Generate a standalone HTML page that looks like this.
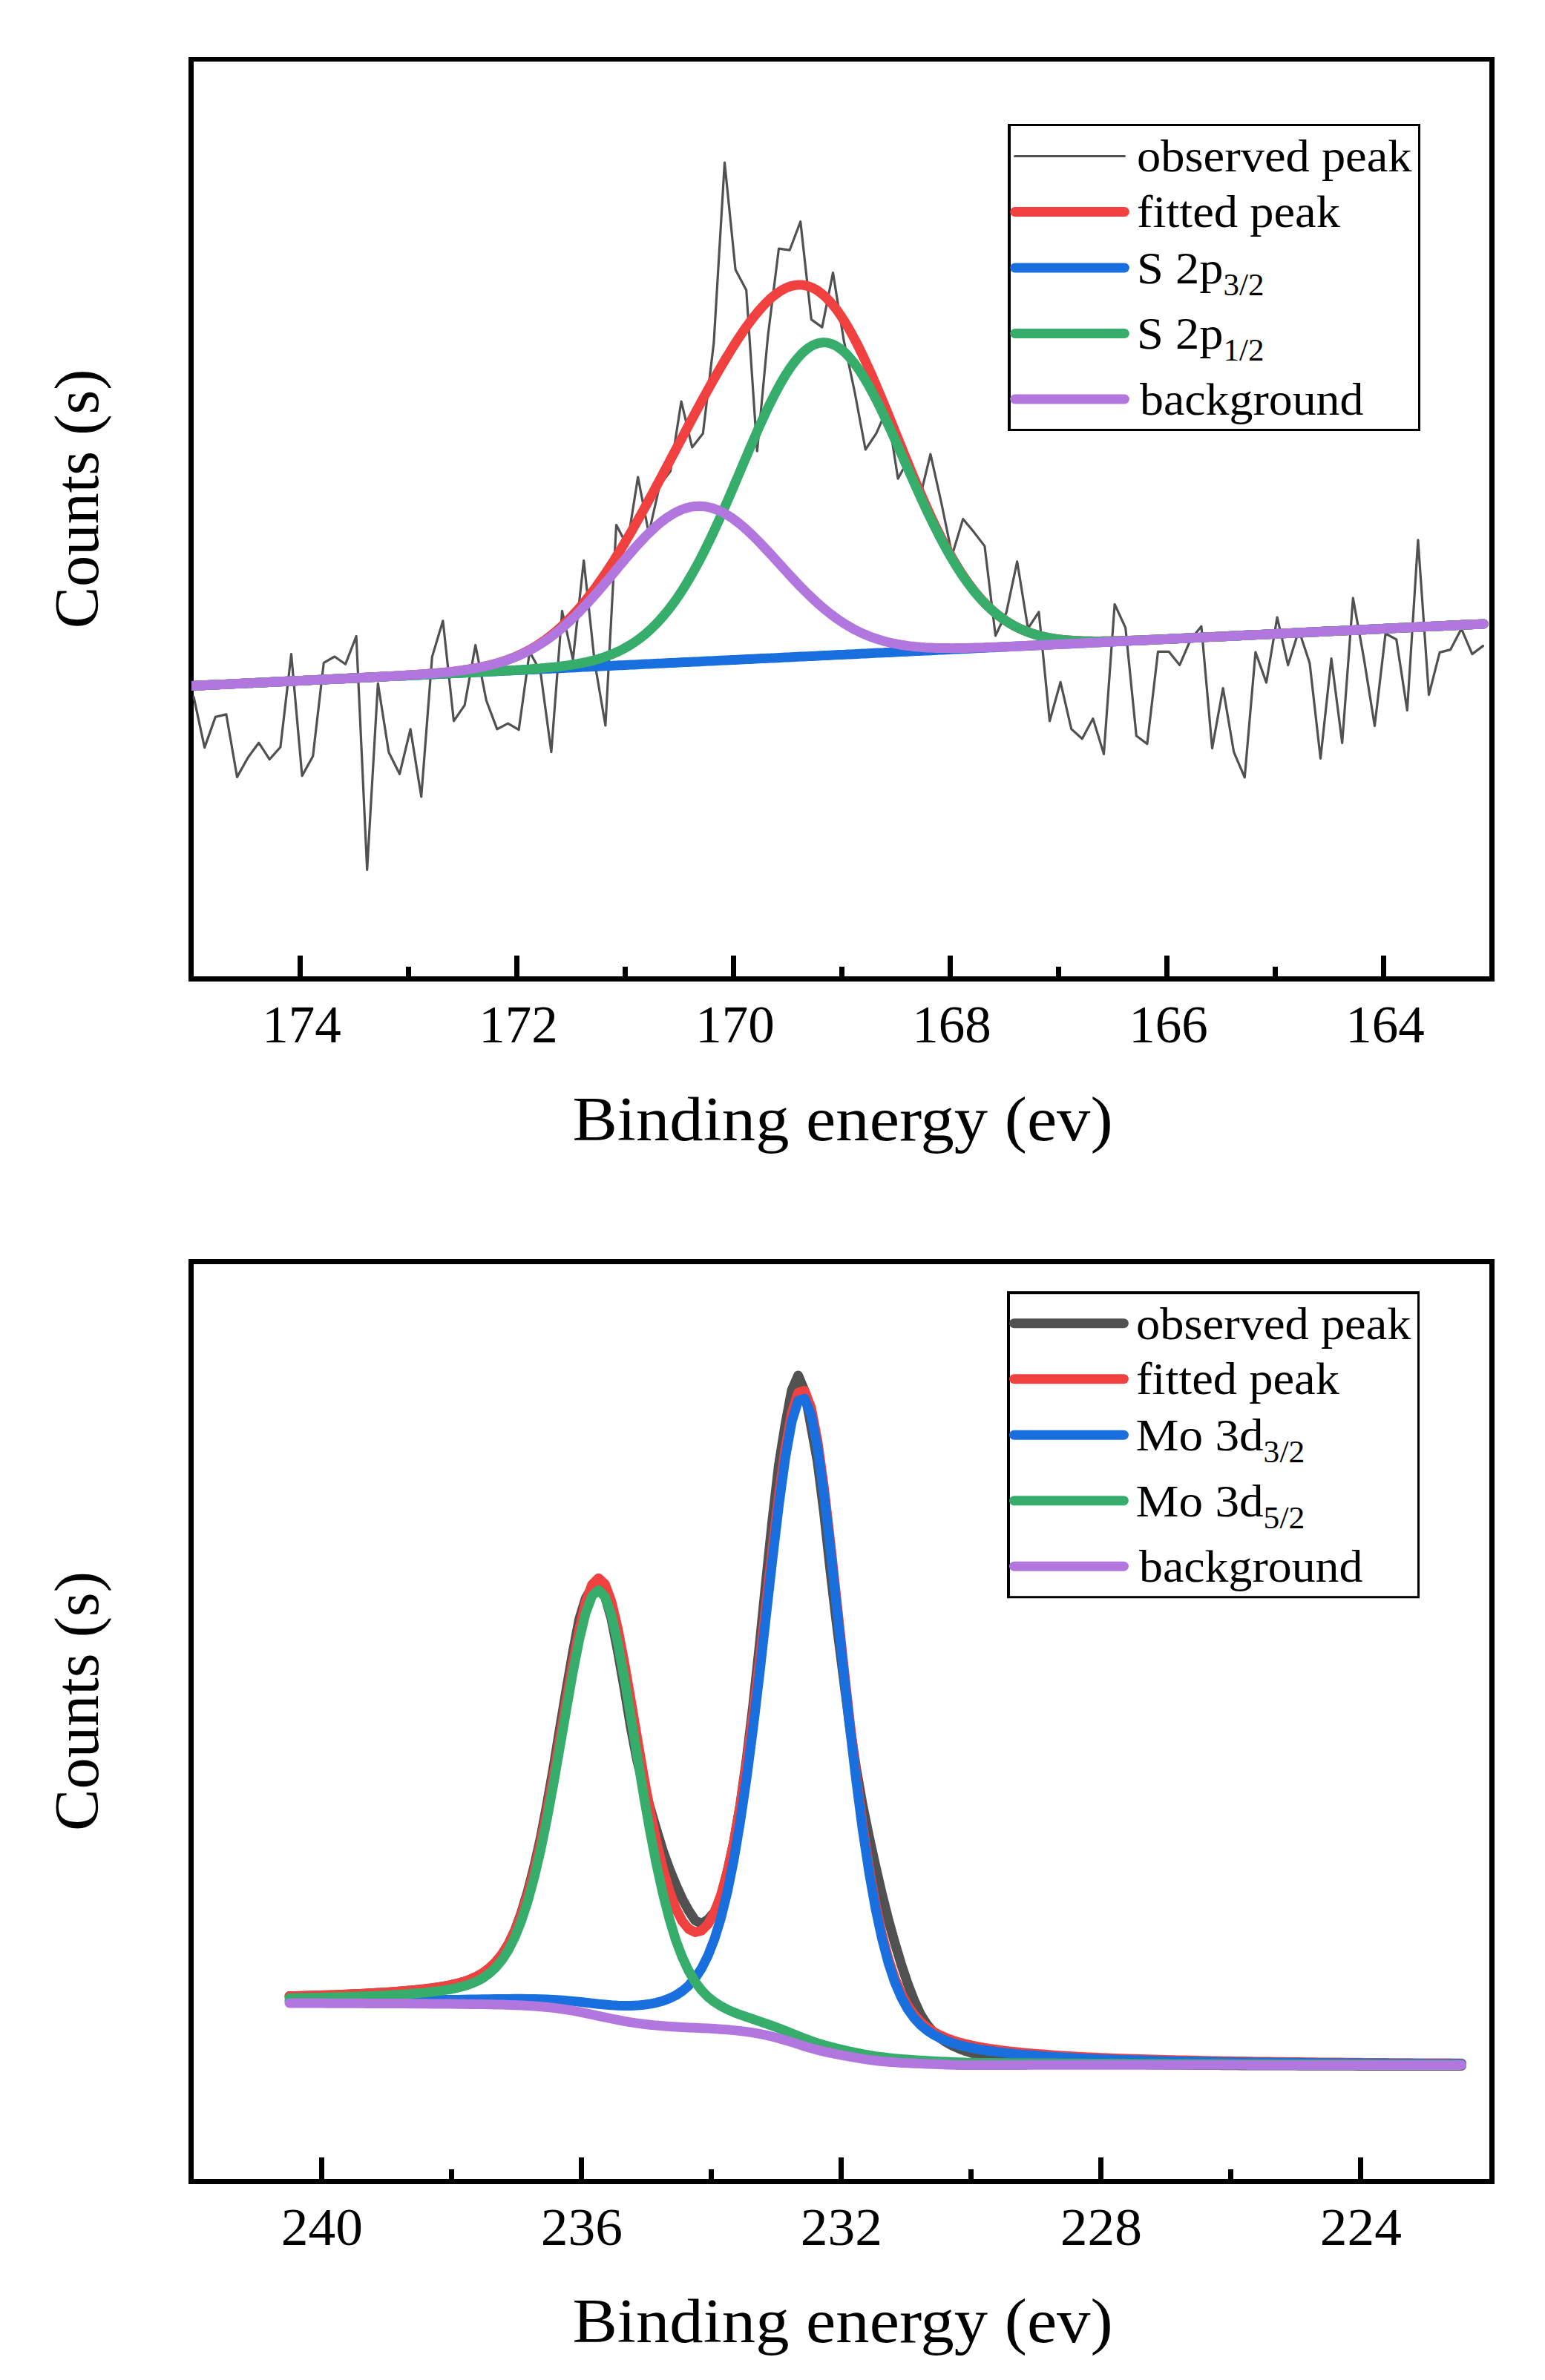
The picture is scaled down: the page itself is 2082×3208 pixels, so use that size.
<!DOCTYPE html>
<html><head><meta charset="utf-8"><title>XPS spectra</title>
<style>
html,body{margin:0;padding:0;background:#fff}
svg{display:block}
text{font-family:"Liberation Serif",serif;fill:#000}
</style></head><body>
<svg width="2082" height="3208" viewBox="0 0 2082 3208">
<defs><clipPath id="clipL"><rect x="258" y="0" width="1800" height="1400"/></clipPath></defs>
<rect width="2082" height="3208" fill="#fff"/>
<path fill="#000" fill-rule="evenodd" d="M254,77 H2014 V1323 H254 Z M261,83 H2007 V1316 H261 Z"/>
<g clip-path="url(#clipL)">
<path d="M261.1,939.6L275.7,1007.6L290.3,966.4L304.9,962.9L319.5,1047.4L334.1,1021.2L348.7,1001.2L363.3,1023.5L377.9,1007.0L392.5,881.7L407.1,1045.8L421.7,1019.2L436.3,893.4L450.9,885.0L465.5,895.3L480.1,857.5L494.7,1172.5L509.3,921.0L523.9,1014.0L538.5,1043.3L553.1,982.8L567.7,1073.8L582.3,885.4L596.9,836.8L611.5,971.8L626.1,950.7L640.7,869.6L655.3,944.0L669.9,982.9L684.5,975.1L699.1,983.7L713.7,878.5L728.3,905.2L742.9,1013.6L757.5,823.5L772.1,889.0L786.7,755.5L801.3,892.3L815.9,978.0L830.5,707.5L845.1,735.5L859.7,643.0L874.3,719.0L888.9,654.3L903.5,635.0L918.1,541.0L932.7,603.0L947.3,584.3L961.9,462.0L976.5,219.1L991.1,363.4L1005.7,391.0L1020.3,608.2L1034.9,452.4L1049.5,335.1L1064.1,337.2L1078.7,298.7L1093.3,430.6L1107.9,441.1L1122.5,367.5L1137.1,458.9L1151.7,528.0L1166.3,606.0L1180.9,584.1L1195.5,551.0L1210.1,645.2L1224.7,618.0L1239.3,672.4L1253.9,612.2L1268.5,677.5L1283.1,748.2L1297.7,699.6L1312.3,717.1L1326.9,736.1L1341.5,856.9L1356.1,825.8L1370.7,756.9L1385.3,847.2L1399.9,824.9L1414.5,972.0L1429.1,919.4L1443.7,982.6L1458.3,995.7L1472.9,968.6L1487.5,1016.4L1502.1,814.5L1516.7,846.2L1531.3,991.7L1545.9,1002.7L1560.5,878.3L1575.1,878.3L1589.7,896.4L1604.3,862.3L1618.9,844.2L1633.5,1008.7L1648.1,927.5L1662.7,1013.7L1677.3,1047.9L1691.9,879.0L1706.5,920.1L1721.1,832.0L1735.7,896.5L1750.3,849.6L1764.9,893.7L1779.5,1022.4L1794.1,887.7L1808.7,1001.5L1823.3,806.1L1837.9,887.1L1852.5,978.4L1867.1,854.0L1881.7,861.8L1896.3,957.5L1910.9,727.9L1925.5,936.6L1940.1,879.4L1954.7,875.6L1969.3,847.4L1983.9,881.6L1998.5,870.6" fill="none" stroke="#515151" stroke-width="3.2" stroke-linejoin="round" stroke-linecap="round"/>
<path d="M250.5,924.9L254.5,924.7L258.5,924.5L262.5,924.3L266.5,924.1L270.5,923.9L274.5,923.7L278.5,923.5L282.5,923.3L286.5,923.1L290.5,923.0L294.5,922.8L298.5,922.6L302.5,922.4L306.5,922.2L310.5,922.0L314.5,921.8L318.5,921.6L322.5,921.4L326.5,921.2L330.5,921.0L334.5,920.8L338.5,920.7L342.5,920.5L346.5,920.3L350.5,920.1L354.5,919.9L358.5,919.7L362.5,919.5L366.5,919.3L370.5,919.1L374.5,918.9L378.5,918.7L382.5,918.5L386.5,918.3L390.5,918.2L394.5,918.0L398.5,917.8L402.5,917.6L406.5,917.4L410.5,917.2L414.5,917.0L418.5,916.8L422.5,916.6L426.5,916.4L430.5,916.2L434.5,916.0L438.5,915.8L442.5,915.6L446.5,915.5L450.5,915.3L454.5,915.1L458.5,914.9L462.5,914.7L466.5,914.5L470.5,914.3L474.5,914.1L478.5,913.9L482.5,913.7L486.5,913.5L490.5,913.3L494.5,913.1L498.5,912.9L502.5,912.7L506.5,912.5L510.5,912.3L514.5,912.1L518.5,911.9L522.5,911.6L526.5,911.4L530.5,911.2L534.5,911.0L538.5,910.8L542.5,910.5L546.5,910.3L550.5,910.0L554.5,909.8L558.5,909.5L562.5,909.3L566.5,909.0L570.5,908.7L574.5,908.4L578.5,908.1L582.5,907.8L586.5,907.5L590.5,907.1L594.5,906.7L598.5,906.4L602.5,906.0L606.5,905.5L610.5,905.1L614.5,904.6L618.5,904.1L622.5,903.6L626.5,903.0L630.5,902.4L634.5,901.7L638.5,901.0L642.5,900.3L646.5,899.5L650.5,898.7L654.5,897.8L658.5,896.9L662.5,895.9L666.5,894.8L670.5,893.7L674.5,892.5L678.5,891.2L682.5,889.8L686.5,888.4L690.5,886.8L694.5,885.2L698.5,883.4L702.5,881.6L706.5,879.7L710.5,877.6L714.5,875.4L718.5,873.1L722.5,870.7L726.5,868.2L730.5,865.5L734.5,862.7L738.5,859.7L742.5,856.6L746.5,853.4L750.5,850.0L754.5,846.5L758.5,842.8L762.5,838.9L766.5,834.9L770.5,830.8L774.5,826.5L778.5,822.0L782.5,817.4L786.5,812.6L790.5,807.7L794.5,802.6L798.5,797.4L802.5,792.0L806.5,786.4L810.5,780.7L814.5,774.9L818.5,769.0L822.5,762.9L826.5,756.7L830.5,750.3L834.5,743.9L838.5,737.3L842.5,730.6L846.5,723.8L850.5,716.9L854.5,709.9L858.5,702.9L862.5,695.8L866.5,688.6L870.5,681.3L874.5,673.9L878.5,666.6L882.5,659.1L886.5,651.7L890.5,644.2L894.5,636.6L898.5,629.1L902.5,621.5L906.5,613.9L910.5,606.4L914.5,598.8L918.5,591.2L922.5,583.7L926.5,576.1L930.5,568.6L934.5,561.1L938.5,553.7L942.5,546.3L946.5,538.9L950.5,531.6L954.5,524.4L958.5,517.2L962.5,510.1L966.5,503.1L970.5,496.2L974.5,489.4L978.5,482.6L982.5,476.1L986.5,469.6L990.5,463.3L994.5,457.1L998.5,451.1L1002.5,445.2L1006.5,439.5L1010.5,434.1L1014.5,428.8L1018.5,423.8L1022.5,419.0L1026.5,414.4L1030.5,410.1L1034.5,406.1L1038.5,402.3L1042.5,398.9L1046.5,395.8L1050.5,393.0L1054.5,390.6L1058.5,388.5L1062.5,386.8L1066.5,385.5L1070.5,384.6L1074.5,384.1L1078.5,383.9L1082.5,384.3L1086.5,385.0L1090.5,386.2L1094.5,387.8L1098.5,389.8L1102.5,392.3L1106.5,395.2L1110.5,398.6L1114.5,402.4L1118.5,406.6L1122.5,411.2L1126.5,416.3L1130.5,421.8L1134.5,427.7L1138.5,434.0L1142.5,440.6L1146.5,447.6L1150.5,455.0L1154.5,462.6L1158.5,470.6L1162.5,478.9L1166.5,487.4L1170.5,496.2L1174.5,505.1L1178.5,514.3L1182.5,523.7L1186.5,533.2L1190.5,542.9L1194.5,552.6L1198.5,562.4L1202.5,572.3L1206.5,582.3L1210.5,592.2L1214.5,602.1L1218.5,612.0L1222.5,621.8L1226.5,631.6L1230.5,641.2L1234.5,650.8L1238.5,660.2L1242.5,669.4L1246.5,678.5L1250.5,687.5L1254.5,696.2L1258.5,704.7L1262.5,713.0L1266.5,721.1L1270.5,728.9L1274.5,736.5L1278.5,743.9L1282.5,751.0L1286.5,757.8L1290.5,764.4L1294.5,770.8L1298.5,776.8L1302.5,782.6L1306.5,788.2L1310.5,793.5L1314.5,798.5L1318.5,803.3L1322.5,807.9L1326.5,812.2L1330.5,816.2L1334.5,820.1L1338.5,823.7L1342.5,827.1L1346.5,830.3L1350.5,833.3L1354.5,836.1L1358.5,838.7L1362.5,841.1L1366.5,843.4L1370.5,845.5L1374.5,847.4L1378.5,849.2L1382.5,850.8L1386.5,852.3L1390.5,853.7L1394.5,855.0L1398.5,856.2L1402.5,857.2L1406.5,858.2L1410.5,859.0L1414.5,859.8L1418.5,860.5L1422.5,861.1L1426.5,861.6L1430.5,862.1L1434.5,862.6L1438.5,862.9L1442.5,863.2L1446.5,863.5L1450.5,863.7L1454.5,863.9L1458.5,864.1L1462.5,864.2L1466.5,864.3L1470.5,864.3L1474.5,864.4L1478.5,864.4L1482.5,864.4L1486.5,864.3L1490.5,864.3L1494.5,864.2L1498.5,864.1L1502.5,864.0L1506.5,863.9L1510.5,863.8L1514.5,863.7L1518.5,863.6L1522.5,863.4L1526.5,863.3L1530.5,863.1L1534.5,863.0L1538.5,862.8L1542.5,862.7L1546.5,862.5L1550.5,862.3L1554.5,862.2L1558.5,862.0L1562.5,861.8L1566.5,861.6L1570.5,861.4L1574.5,861.3L1578.5,861.1L1582.5,860.9L1586.5,860.7L1590.5,860.5L1594.5,860.3L1598.5,860.1L1602.5,860.0L1606.5,859.8L1610.5,859.6L1614.5,859.4L1618.5,859.2L1622.5,859.0L1626.5,858.8L1630.5,858.6L1634.5,858.4L1638.5,858.2L1642.5,858.1L1646.5,857.9L1650.5,857.7L1654.5,857.5L1658.5,857.3L1662.5,857.1L1666.5,856.9L1670.5,856.7L1674.5,856.5L1678.5,856.3L1682.5,856.1L1686.5,855.9L1690.5,855.8L1694.5,855.6L1698.5,855.4L1702.5,855.2L1706.5,855.0L1710.5,854.8L1714.5,854.6L1718.5,854.4L1722.5,854.2L1726.5,854.0L1730.5,853.8L1734.5,853.6L1738.5,853.5L1742.5,853.3L1746.5,853.1L1750.5,852.9L1754.5,852.7L1758.5,852.5L1762.5,852.3L1766.5,852.1L1770.5,851.9L1774.5,851.7L1778.5,851.5L1782.5,851.3L1786.5,851.1L1790.5,851.0L1794.5,850.8L1798.5,850.6L1802.5,850.4L1806.5,850.2L1810.5,850.0L1814.5,849.8L1818.5,849.6L1822.5,849.4L1826.5,849.2L1830.5,849.0L1834.5,848.8L1838.5,848.7L1842.5,848.5L1846.5,848.3L1850.5,848.1L1854.5,847.9L1858.5,847.7L1862.5,847.5L1866.5,847.3L1870.5,847.1L1874.5,846.9L1878.5,846.7L1882.5,846.5L1886.5,846.3L1890.5,846.2L1894.5,846.0L1898.5,845.8L1902.5,845.6L1906.5,845.4L1910.5,845.2L1914.5,845.0L1918.5,844.8L1922.5,844.6L1926.5,844.4L1930.5,844.2L1934.5,844.0L1938.5,843.9L1942.5,843.7L1946.5,843.5L1950.5,843.3L1954.5,843.1L1958.5,842.9L1962.5,842.7L1966.5,842.5L1970.5,842.3L1974.5,842.1L1978.5,841.9L1982.5,841.7L1986.5,841.5L1990.5,841.4L1994.5,841.2L1999.4,840.9" fill="none" stroke="#F14040" stroke-width="13" stroke-linecap="round" stroke-linejoin="round"/>
<path d="M250.5,924.9L254.5,924.7L258.5,924.5L262.5,924.3L266.5,924.1L270.5,923.9L274.5,923.7L278.5,923.5L282.5,923.3L286.5,923.1L290.5,923.0L294.5,922.8L298.5,922.6L302.5,922.4L306.5,922.2L310.5,922.0L314.5,921.8L318.5,921.6L322.5,921.4L326.5,921.2L330.5,921.0L334.5,920.8L338.5,920.7L342.5,920.5L346.5,920.3L350.5,920.1L354.5,919.9L358.5,919.7L362.5,919.5L366.5,919.3L370.5,919.1L374.5,918.9L378.5,918.7L382.5,918.5L386.5,918.3L390.5,918.2L394.5,918.0L398.5,917.8L402.5,917.6L406.5,917.4L410.5,917.2L414.5,917.0L418.5,916.8L422.5,916.6L426.5,916.4L430.5,916.2L434.5,916.0L438.5,915.9L442.5,915.7L446.5,915.5L450.5,915.3L454.5,915.1L458.5,914.9L462.5,914.7L466.5,914.5L470.5,914.3L474.5,914.1L478.5,913.9L482.5,913.7L486.5,913.5L490.5,913.4L494.5,913.2L498.5,913.0L502.5,912.8L506.5,912.6L510.5,912.4L514.5,912.2L518.5,912.0L522.5,911.8L526.5,911.6L530.5,911.4L534.5,911.2L538.5,911.1L542.5,910.9L546.5,910.7L550.5,910.5L554.5,910.3L558.5,910.1L562.5,909.9L566.5,909.7L570.5,909.5L574.5,909.3L578.5,909.1L582.5,908.9L586.5,908.7L590.5,908.6L594.5,908.4L598.5,908.2L602.5,908.0L606.5,907.8L610.5,907.6L614.5,907.4L618.5,907.2L622.5,907.0L626.5,906.8L630.5,906.6L634.5,906.4L638.5,906.3L642.5,906.1L646.5,905.9L650.5,905.7L654.5,905.5L658.5,905.3L662.5,905.1L666.5,904.9L670.5,904.7L674.5,904.5L678.5,904.3L682.5,904.1L686.5,903.9L690.5,903.8L694.5,903.6L698.5,903.4L702.5,903.2L706.5,903.0L710.5,902.8L714.5,902.6L718.5,902.4L722.5,902.2L726.5,902.0L730.5,901.8L734.5,901.6L738.5,901.5L742.5,901.3L746.5,901.1L750.5,900.9L754.5,900.7L758.5,900.5L762.5,900.3L766.5,900.1L770.5,899.9L774.5,899.7L778.5,899.5L782.5,899.3L786.5,899.1L790.5,899.0L794.5,898.8L798.5,898.6L802.5,898.4L806.5,898.2L810.5,898.0L814.5,897.8L818.5,897.6L822.5,897.4L826.5,897.2L830.5,897.0L834.5,896.8L838.5,896.7L842.5,896.5L846.5,896.3L850.5,896.1L854.5,895.9L858.5,895.7L862.5,895.5L866.5,895.3L870.5,895.1L874.5,894.9L878.5,894.7L882.5,894.5L886.5,894.3L890.5,894.2L894.5,894.0L898.5,893.8L902.5,893.6L906.5,893.4L910.5,893.2L914.5,893.0L918.5,892.8L922.5,892.6L926.5,892.4L930.5,892.2L934.5,892.0L938.5,891.9L942.5,891.7L946.5,891.5L950.5,891.3L954.5,891.1L958.5,890.9L962.5,890.7L966.5,890.5L970.5,890.3L974.5,890.1L978.5,889.9L982.5,889.7L986.5,889.5L990.5,889.4L994.5,889.2L998.5,889.0L1002.5,888.8L1006.5,888.6L1010.5,888.4L1014.5,888.2L1018.5,888.0L1022.5,887.8L1026.5,887.6L1030.5,887.4L1034.5,887.2L1038.5,887.1L1042.5,886.9L1046.5,886.7L1050.5,886.5L1054.5,886.3L1058.5,886.1L1062.5,885.9L1066.5,885.7L1070.5,885.5L1074.5,885.3L1078.5,885.1L1082.5,884.9L1086.5,884.7L1090.5,884.6L1094.5,884.4L1098.5,884.2L1102.5,884.0L1106.5,883.8L1110.5,883.6L1114.5,883.4L1118.5,883.2L1122.5,883.0L1126.5,882.8L1130.5,882.6L1134.5,882.4L1138.5,882.3L1142.5,882.1L1146.5,881.9L1150.5,881.7L1154.5,881.5L1158.5,881.3L1162.5,881.1L1166.5,880.9L1170.5,880.7L1174.5,880.5L1178.5,880.3L1182.5,880.1L1186.5,879.9L1190.5,879.8L1194.5,879.6L1198.5,879.4L1202.5,879.2L1206.5,879.0L1210.5,878.8L1214.5,878.6L1218.5,878.4L1222.5,878.2L1226.5,878.0L1230.5,877.8L1234.5,877.6L1238.5,877.5L1242.5,877.3L1246.5,877.1L1250.5,876.9L1254.5,876.7L1258.5,876.5L1262.5,876.3L1266.5,876.1L1270.5,875.9L1274.5,875.7L1278.5,875.5L1282.5,875.3L1286.5,875.1L1290.5,875.0L1294.5,874.8L1298.5,874.6L1302.5,874.4L1306.5,874.2L1310.5,874.0L1314.5,873.8L1318.5,873.6L1322.5,873.4L1326.5,873.2L1330.5,873.0L1334.5,872.8L1338.5,872.7L1342.5,872.5L1346.5,872.3L1350.5,872.1L1354.5,871.9L1358.5,871.7L1362.5,871.5L1366.5,871.3L1370.5,871.1L1374.5,870.9L1378.5,870.7L1382.5,870.5L1386.5,870.3L1390.5,870.2L1394.5,870.0L1398.5,869.8L1402.5,869.6L1406.5,869.4L1410.5,869.2L1414.5,869.0L1418.5,868.8L1422.5,868.6L1426.5,868.4L1430.5,868.2L1434.5,868.0L1438.5,867.9L1442.5,867.7L1446.5,867.5L1450.5,867.3L1454.5,867.1L1458.5,866.9L1462.5,866.7L1466.5,866.5L1470.5,866.3L1474.5,866.1L1478.5,865.9L1482.5,865.7L1486.5,865.5L1490.5,865.4L1494.5,865.2L1498.5,865.0L1502.5,864.8L1506.5,864.6L1510.5,864.4L1514.5,864.2L1518.5,864.0L1522.5,863.8L1526.5,863.6L1530.5,863.4L1534.5,863.2L1538.5,863.1L1542.5,862.9L1546.5,862.7L1550.5,862.5L1554.5,862.3L1558.5,862.1L1562.5,861.9L1566.5,861.7L1570.5,861.5L1574.5,861.3L1578.5,861.1L1582.5,860.9L1586.5,860.7L1590.5,860.6L1594.5,860.4L1598.5,860.2L1602.5,860.0L1606.5,859.8L1610.5,859.6L1614.5,859.4L1618.5,859.2L1622.5,859.0L1626.5,858.8L1630.5,858.6L1634.5,858.4L1638.5,858.3L1642.5,858.1L1646.5,857.9L1650.5,857.7L1654.5,857.5L1658.5,857.3L1662.5,857.1L1666.5,856.9L1670.5,856.7L1674.5,856.5L1678.5,856.3L1682.5,856.1L1686.5,855.9L1690.5,855.8L1694.5,855.6L1698.5,855.4L1702.5,855.2L1706.5,855.0L1710.5,854.8L1714.5,854.6L1718.5,854.4L1722.5,854.2L1726.5,854.0L1730.5,853.8L1734.5,853.6L1738.5,853.5L1742.5,853.3L1746.5,853.1L1750.5,852.9L1754.5,852.7L1758.5,852.5L1762.5,852.3L1766.5,852.1L1770.5,851.9L1774.5,851.7L1778.5,851.5L1782.5,851.3L1786.5,851.1L1790.5,851.0L1794.5,850.8L1798.5,850.6L1802.5,850.4L1806.5,850.2L1810.5,850.0L1814.5,849.8L1818.5,849.6L1822.5,849.4L1826.5,849.2L1830.5,849.0L1834.5,848.8L1838.5,848.7L1842.5,848.5L1846.5,848.3L1850.5,848.1L1854.5,847.9L1858.5,847.7L1862.5,847.5L1866.5,847.3L1870.5,847.1L1874.5,846.9L1878.5,846.7L1882.5,846.5L1886.5,846.3L1890.5,846.2L1894.5,846.0L1898.5,845.8L1902.5,845.6L1906.5,845.4L1910.5,845.2L1914.5,845.0L1918.5,844.8L1922.5,844.6L1926.5,844.4L1930.5,844.2L1934.5,844.0L1938.5,843.9L1942.5,843.7L1946.5,843.5L1950.5,843.3L1954.5,843.1L1958.5,842.9L1962.5,842.7L1966.5,842.5L1970.5,842.3L1974.5,842.1L1978.5,841.9L1982.5,841.7L1986.5,841.5L1990.5,841.4L1994.5,841.2L1999.4,840.9" fill="none" stroke="#1A6FDF" stroke-width="13" stroke-linecap="round" stroke-linejoin="round"/>
<path d="M250.5,924.9L254.5,924.7L258.5,924.5L262.5,924.3L266.5,924.1L270.5,923.9L274.5,923.7L278.5,923.5L282.5,923.3L286.5,923.1L290.5,923.0L294.5,922.8L298.5,922.6L302.5,922.4L306.5,922.2L310.5,922.0L314.5,921.8L318.5,921.6L322.5,921.4L326.5,921.2L330.5,921.0L334.5,920.8L338.5,920.7L342.5,920.5L346.5,920.3L350.5,920.1L354.5,919.9L358.5,919.7L362.5,919.5L366.5,919.3L370.5,919.1L374.5,918.9L378.5,918.7L382.5,918.5L386.5,918.3L390.5,918.2L394.5,918.0L398.5,917.8L402.5,917.6L406.5,917.4L410.5,917.2L414.5,917.0L418.5,916.8L422.5,916.6L426.5,916.4L430.5,916.2L434.5,916.0L438.5,915.9L442.5,915.7L446.5,915.5L450.5,915.3L454.5,915.1L458.5,914.9L462.5,914.7L466.5,914.5L470.5,914.3L474.5,914.1L478.5,913.9L482.5,913.7L486.5,913.5L490.5,913.4L494.5,913.2L498.5,913.0L502.5,912.8L506.5,912.6L510.5,912.4L514.5,912.2L518.5,912.0L522.5,911.8L526.5,911.6L530.5,911.4L534.5,911.2L538.5,911.0L542.5,910.9L546.5,910.7L550.5,910.5L554.5,910.3L558.5,910.1L562.5,909.9L566.5,909.7L570.5,909.5L574.5,909.3L578.5,909.1L582.5,908.9L586.5,908.7L590.5,908.5L594.5,908.4L598.5,908.2L602.5,908.0L606.5,907.8L610.5,907.6L614.5,907.4L618.5,907.2L622.5,907.0L626.5,906.8L630.5,906.6L634.5,906.4L638.5,906.2L642.5,906.0L646.5,905.8L650.5,905.6L654.5,905.4L658.5,905.2L662.5,905.0L666.5,904.8L670.5,904.6L674.5,904.3L678.5,904.1L682.5,903.9L686.5,903.7L690.5,903.4L694.5,903.2L698.5,902.9L702.5,902.7L706.5,902.4L710.5,902.2L714.5,901.9L718.5,901.6L722.5,901.3L726.5,901.0L730.5,900.6L734.5,900.3L738.5,899.9L742.5,899.5L746.5,899.1L750.5,898.7L754.5,898.2L758.5,897.7L762.5,897.2L766.5,896.6L770.5,896.0L774.5,895.4L778.5,894.7L782.5,893.9L786.5,893.1L790.5,892.3L794.5,891.4L798.5,890.4L802.5,889.3L806.5,888.2L810.5,887.0L814.5,885.6L818.5,884.2L822.5,882.7L826.5,881.1L830.5,879.3L834.5,877.5L838.5,875.5L842.5,873.3L846.5,871.0L850.5,868.6L854.5,866.0L858.5,863.2L862.5,860.3L866.5,857.2L870.5,853.9L874.5,850.4L878.5,846.6L882.5,842.7L886.5,838.6L890.5,834.2L894.5,829.6L898.5,824.8L902.5,819.7L906.5,814.4L910.5,808.9L914.5,803.1L918.5,797.0L922.5,790.7L926.5,784.2L930.5,777.4L934.5,770.4L938.5,763.2L942.5,755.7L946.5,748.0L950.5,740.0L954.5,731.9L958.5,723.6L962.5,715.0L966.5,706.3L970.5,697.5L974.5,688.5L978.5,679.4L982.5,670.1L986.5,660.8L990.5,651.4L994.5,642.0L998.5,632.6L1002.5,623.1L1006.5,613.7L1010.5,604.3L1014.5,595.0L1018.5,585.8L1022.5,576.7L1026.5,567.8L1030.5,559.1L1034.5,550.6L1038.5,542.4L1042.5,534.4L1046.5,526.7L1050.5,519.3L1054.5,512.3L1058.5,505.6L1062.5,499.4L1066.5,493.5L1070.5,488.1L1074.5,483.2L1078.5,478.7L1082.5,474.7L1086.5,471.3L1090.5,468.3L1094.5,465.9L1098.5,464.0L1102.5,462.7L1106.5,461.9L1110.5,461.6L1114.5,462.0L1118.5,462.8L1122.5,464.2L1126.5,466.2L1130.5,468.7L1134.5,471.7L1138.5,475.2L1142.5,479.2L1146.5,483.7L1150.5,488.7L1154.5,494.1L1158.5,499.9L1162.5,506.1L1166.5,512.7L1170.5,519.6L1174.5,526.9L1178.5,534.5L1182.5,542.3L1186.5,550.4L1190.5,558.7L1194.5,567.2L1198.5,575.8L1202.5,584.6L1206.5,593.5L1210.5,602.5L1214.5,611.5L1218.5,620.6L1222.5,629.7L1226.5,638.7L1230.5,647.7L1234.5,656.7L1238.5,665.5L1242.5,674.3L1246.5,682.9L1250.5,691.4L1254.5,699.8L1258.5,707.9L1262.5,715.9L1266.5,723.7L1270.5,731.3L1274.5,738.6L1278.5,745.8L1282.5,752.7L1286.5,759.3L1290.5,765.8L1294.5,772.0L1298.5,777.9L1302.5,783.6L1306.5,789.0L1310.5,794.2L1314.5,799.2L1318.5,803.9L1322.5,808.4L1326.5,812.6L1330.5,816.6L1334.5,820.4L1338.5,824.0L1342.5,827.4L1346.5,830.5L1350.5,833.5L1354.5,836.3L1358.5,838.8L1362.5,841.3L1366.5,843.5L1370.5,845.6L1374.5,847.5L1378.5,849.3L1382.5,850.9L1386.5,852.4L1390.5,853.8L1394.5,855.0L1398.5,856.2L1402.5,857.2L1406.5,858.2L1410.5,859.0L1414.5,859.8L1418.5,860.5L1422.5,861.1L1426.5,861.7L1430.5,862.1L1434.5,862.6L1438.5,862.9L1442.5,863.2L1446.5,863.5L1450.5,863.7L1454.5,863.9L1458.5,864.1L1462.5,864.2L1466.5,864.3L1470.5,864.3L1474.5,864.4L1478.5,864.4L1482.5,864.4L1486.5,864.3L1490.5,864.3L1494.5,864.2L1498.5,864.1L1502.5,864.0L1506.5,863.9L1510.5,863.8L1514.5,863.7L1518.5,863.6L1522.5,863.4L1526.5,863.3L1530.5,863.1L1534.5,863.0L1538.5,862.8L1542.5,862.7L1546.5,862.5L1550.5,862.3L1554.5,862.2L1558.5,862.0L1562.5,861.8L1566.5,861.6L1570.5,861.4L1574.5,861.3L1578.5,861.1L1582.5,860.9L1586.5,860.7L1590.5,860.5L1594.5,860.3L1598.5,860.1L1602.5,860.0L1606.5,859.8L1610.5,859.6L1614.5,859.4L1618.5,859.2L1622.5,859.0L1626.5,858.8L1630.5,858.6L1634.5,858.4L1638.5,858.2L1642.5,858.1L1646.5,857.9L1650.5,857.7L1654.5,857.5L1658.5,857.3L1662.5,857.1L1666.5,856.9L1670.5,856.7L1674.5,856.5L1678.5,856.3L1682.5,856.1L1686.5,855.9L1690.5,855.8L1694.5,855.6L1698.5,855.4L1702.5,855.2L1706.5,855.0L1710.5,854.8L1714.5,854.6L1718.5,854.4L1722.5,854.2L1726.5,854.0L1730.5,853.8L1734.5,853.6L1738.5,853.5L1742.5,853.3L1746.5,853.1L1750.5,852.9L1754.5,852.7L1758.5,852.5L1762.5,852.3L1766.5,852.1L1770.5,851.9L1774.5,851.7L1778.5,851.5L1782.5,851.3L1786.5,851.1L1790.5,851.0L1794.5,850.8L1798.5,850.6L1802.5,850.4L1806.5,850.2L1810.5,850.0L1814.5,849.8L1818.5,849.6L1822.5,849.4L1826.5,849.2L1830.5,849.0L1834.5,848.8L1838.5,848.7L1842.5,848.5L1846.5,848.3L1850.5,848.1L1854.5,847.9L1858.5,847.7L1862.5,847.5L1866.5,847.3L1870.5,847.1L1874.5,846.9L1878.5,846.7L1882.5,846.5L1886.5,846.3L1890.5,846.2L1894.5,846.0L1898.5,845.8L1902.5,845.6L1906.5,845.4L1910.5,845.2L1914.5,845.0L1918.5,844.8L1922.5,844.6L1926.5,844.4L1930.5,844.2L1934.5,844.0L1938.5,843.9L1942.5,843.7L1946.5,843.5L1950.5,843.3L1954.5,843.1L1958.5,842.9L1962.5,842.7L1966.5,842.5L1970.5,842.3L1974.5,842.1L1978.5,841.9L1982.5,841.7L1986.5,841.5L1990.5,841.4L1994.5,841.2L1999.4,840.9" fill="none" stroke="#37AD6B" stroke-width="13" stroke-linecap="round" stroke-linejoin="round"/>
<path d="M250.5,924.9L254.5,924.7L258.5,924.5L262.5,924.3L266.5,924.1L270.5,923.9L274.5,923.7L278.5,923.5L282.5,923.3L286.5,923.1L290.5,923.0L294.5,922.8L298.5,922.6L302.5,922.4L306.5,922.2L310.5,922.0L314.5,921.8L318.5,921.6L322.5,921.4L326.5,921.2L330.5,921.0L334.5,920.8L338.5,920.7L342.5,920.5L346.5,920.3L350.5,920.1L354.5,919.9L358.5,919.7L362.5,919.5L366.5,919.3L370.5,919.1L374.5,918.9L378.5,918.7L382.5,918.5L386.5,918.3L390.5,918.2L394.5,918.0L398.5,917.8L402.5,917.6L406.5,917.4L410.5,917.2L414.5,917.0L418.5,916.8L422.5,916.6L426.5,916.4L430.5,916.2L434.5,916.0L438.5,915.8L442.5,915.6L446.5,915.5L450.5,915.3L454.5,915.1L458.5,914.9L462.5,914.7L466.5,914.5L470.5,914.3L474.5,914.1L478.5,913.9L482.5,913.7L486.5,913.5L490.5,913.3L494.5,913.1L498.5,912.9L502.5,912.7L506.5,912.5L510.5,912.3L514.5,912.1L518.5,911.9L522.5,911.6L526.5,911.4L530.5,911.2L534.5,911.0L538.5,910.8L542.5,910.5L546.5,910.3L550.5,910.0L554.5,909.8L558.5,909.5L562.5,909.3L566.5,909.0L570.5,908.7L574.5,908.4L578.5,908.1L582.5,907.8L586.5,907.5L590.5,907.1L594.5,906.8L598.5,906.4L602.5,906.0L606.5,905.5L610.5,905.1L614.5,904.6L618.5,904.1L622.5,903.6L626.5,903.0L630.5,902.4L634.5,901.8L638.5,901.1L642.5,900.4L646.5,899.6L650.5,898.8L654.5,897.9L658.5,897.0L662.5,896.0L666.5,895.0L670.5,893.8L674.5,892.7L678.5,891.4L682.5,890.1L686.5,888.6L690.5,887.1L694.5,885.6L698.5,883.9L702.5,882.1L706.5,880.2L710.5,878.2L714.5,876.1L718.5,874.0L722.5,871.6L726.5,869.2L730.5,866.7L734.5,864.0L738.5,861.3L742.5,858.4L746.5,855.3L750.5,852.2L754.5,848.9L758.5,845.6L762.5,842.0L766.5,838.4L770.5,834.7L774.5,830.8L778.5,826.9L782.5,822.8L786.5,818.6L790.5,814.3L794.5,810.0L798.5,805.5L802.5,801.0L806.5,796.4L810.5,791.8L814.5,787.1L818.5,782.4L822.5,777.6L826.5,772.8L830.5,768.0L834.5,763.2L838.5,758.5L842.5,753.7L846.5,749.0L850.5,744.4L854.5,739.8L858.5,735.3L862.5,731.0L866.5,726.7L870.5,722.5L874.5,718.5L878.5,714.7L882.5,711.0L886.5,707.4L890.5,704.1L894.5,701.0L898.5,698.1L902.5,695.4L906.5,692.9L910.5,690.7L914.5,688.7L918.5,687.0L922.5,685.5L926.5,684.3L930.5,683.4L934.5,682.7L938.5,682.4L942.5,682.2L946.5,682.4L950.5,682.8L954.5,683.6L958.5,684.5L962.5,685.8L966.5,687.3L970.5,689.0L974.5,691.0L978.5,693.2L982.5,695.7L986.5,698.3L990.5,701.2L994.5,704.2L998.5,707.5L1002.5,710.9L1006.5,714.5L1010.5,718.2L1014.5,722.0L1018.5,726.0L1022.5,730.0L1026.5,734.2L1030.5,738.4L1034.5,742.7L1038.5,747.0L1042.5,751.4L1046.5,755.8L1050.5,760.2L1054.5,764.6L1058.5,769.0L1062.5,773.4L1066.5,777.7L1070.5,782.0L1074.5,786.2L1078.5,790.4L1082.5,794.5L1086.5,798.5L1090.5,802.4L1094.5,806.2L1098.5,810.0L1102.5,813.6L1106.5,817.1L1110.5,820.5L1114.5,823.8L1118.5,827.0L1122.5,830.0L1126.5,832.9L1130.5,835.7L1134.5,838.4L1138.5,841.0L1142.5,843.4L1146.5,845.8L1150.5,848.0L1154.5,850.0L1158.5,852.0L1162.5,853.9L1166.5,855.6L1170.5,857.2L1174.5,858.8L1178.5,860.2L1182.5,861.5L1186.5,862.8L1190.5,863.9L1194.5,865.0L1198.5,866.0L1202.5,866.9L1206.5,867.7L1210.5,868.5L1214.5,869.2L1218.5,869.8L1222.5,870.4L1226.5,870.9L1230.5,871.3L1234.5,871.7L1238.5,872.1L1242.5,872.4L1246.5,872.7L1250.5,872.9L1254.5,873.1L1258.5,873.3L1262.5,873.4L1266.5,873.5L1270.5,873.6L1274.5,873.6L1278.5,873.6L1282.5,873.7L1286.5,873.6L1290.5,873.6L1294.5,873.6L1298.5,873.5L1302.5,873.4L1306.5,873.3L1310.5,873.3L1314.5,873.1L1318.5,873.0L1322.5,872.9L1326.5,872.8L1330.5,872.6L1334.5,872.5L1338.5,872.3L1342.5,872.2L1346.5,872.0L1350.5,871.9L1354.5,871.7L1358.5,871.5L1362.5,871.4L1366.5,871.2L1370.5,871.0L1374.5,870.8L1378.5,870.7L1382.5,870.5L1386.5,870.3L1390.5,870.1L1394.5,869.9L1398.5,869.7L1402.5,869.5L1406.5,869.4L1410.5,869.2L1414.5,869.0L1418.5,868.8L1422.5,868.6L1426.5,868.4L1430.5,868.2L1434.5,868.0L1438.5,867.8L1442.5,867.7L1446.5,867.5L1450.5,867.3L1454.5,867.1L1458.5,866.9L1462.5,866.7L1466.5,866.5L1470.5,866.3L1474.5,866.1L1478.5,865.9L1482.5,865.7L1486.5,865.5L1490.5,865.4L1494.5,865.2L1498.5,865.0L1502.5,864.8L1506.5,864.6L1510.5,864.4L1514.5,864.2L1518.5,864.0L1522.5,863.8L1526.5,863.6L1530.5,863.4L1534.5,863.2L1538.5,863.1L1542.5,862.9L1546.5,862.7L1550.5,862.5L1554.5,862.3L1558.5,862.1L1562.5,861.9L1566.5,861.7L1570.5,861.5L1574.5,861.3L1578.5,861.1L1582.5,860.9L1586.5,860.7L1590.5,860.6L1594.5,860.4L1598.5,860.2L1602.5,860.0L1606.5,859.8L1610.5,859.6L1614.5,859.4L1618.5,859.2L1622.5,859.0L1626.5,858.8L1630.5,858.6L1634.5,858.4L1638.5,858.3L1642.5,858.1L1646.5,857.9L1650.5,857.7L1654.5,857.5L1658.5,857.3L1662.5,857.1L1666.5,856.9L1670.5,856.7L1674.5,856.5L1678.5,856.3L1682.5,856.1L1686.5,855.9L1690.5,855.8L1694.5,855.6L1698.5,855.4L1702.5,855.2L1706.5,855.0L1710.5,854.8L1714.5,854.6L1718.5,854.4L1722.5,854.2L1726.5,854.0L1730.5,853.8L1734.5,853.6L1738.5,853.5L1742.5,853.3L1746.5,853.1L1750.5,852.9L1754.5,852.7L1758.5,852.5L1762.5,852.3L1766.5,852.1L1770.5,851.9L1774.5,851.7L1778.5,851.5L1782.5,851.3L1786.5,851.1L1790.5,851.0L1794.5,850.8L1798.5,850.6L1802.5,850.4L1806.5,850.2L1810.5,850.0L1814.5,849.8L1818.5,849.6L1822.5,849.4L1826.5,849.2L1830.5,849.0L1834.5,848.8L1838.5,848.7L1842.5,848.5L1846.5,848.3L1850.5,848.1L1854.5,847.9L1858.5,847.7L1862.5,847.5L1866.5,847.3L1870.5,847.1L1874.5,846.9L1878.5,846.7L1882.5,846.5L1886.5,846.3L1890.5,846.2L1894.5,846.0L1898.5,845.8L1902.5,845.6L1906.5,845.4L1910.5,845.2L1914.5,845.0L1918.5,844.8L1922.5,844.6L1926.5,844.4L1930.5,844.2L1934.5,844.0L1938.5,843.9L1942.5,843.7L1946.5,843.5L1950.5,843.3L1954.5,843.1L1958.5,842.9L1962.5,842.7L1966.5,842.5L1970.5,842.3L1974.5,842.1L1978.5,841.9L1982.5,841.7L1986.5,841.5L1990.5,841.4L1994.5,841.2L1999.4,840.9" fill="none" stroke="#B177DE" stroke-width="13" stroke-linecap="round" stroke-linejoin="round"/>
</g>
<rect x="401.0" y="1288" width="7" height="29" fill="#000"/>
<rect x="693.0" y="1288" width="7" height="29" fill="#000"/>
<rect x="985.0" y="1288" width="7" height="29" fill="#000"/>
<rect x="1277.0" y="1288" width="7" height="29" fill="#000"/>
<rect x="1569.0" y="1288" width="7" height="29" fill="#000"/>
<rect x="1861.0" y="1288" width="7" height="29" fill="#000"/>
<rect x="547.0" y="1303" width="7" height="14" fill="#000"/>
<rect x="839.0" y="1303" width="7" height="14" fill="#000"/>
<rect x="1131.0" y="1303" width="7" height="14" fill="#000"/>
<rect x="1423.0" y="1303" width="7" height="14" fill="#000"/>
<rect x="1715.0" y="1303" width="7" height="14" fill="#000"/>
<text transform="translate(406.6,1405.0)" font-size="71px" text-anchor="middle">174</text>
<text transform="translate(698.6,1405.0)" font-size="71px" text-anchor="middle">172</text>
<text transform="translate(990.6,1405.0)" font-size="71px" text-anchor="middle">170</text>
<text transform="translate(1282.6,1405.0)" font-size="71px" text-anchor="middle">168</text>
<text transform="translate(1574.6,1405.0)" font-size="71px" text-anchor="middle">166</text>
<text transform="translate(1866.6,1405.0)" font-size="71px" text-anchor="middle">164</text>
<text transform="translate(1135.5,1536.8) scale(1.0790,1.0000)" font-size="84px" text-anchor="middle">Binding energy (ev)</text>
<text transform="translate(132.4,672.4) rotate(-90)" font-size="84.5px" text-anchor="middle">Counts (s)</text>
<path fill="#000" fill-rule="evenodd" d="M1358.0,167.0 H1914.0 V581.0 H1358.0 Z M1362.0,170.0 H1911.0 V578.0 H1362.0 Z"/>
<line x1="1367.6" x2="1515.4" y1="210.5" y2="210.5" stroke="#515151" stroke-width="3.2" stroke-linecap="round"/>
<line x1="1367.6" x2="1515.4" y1="285.5" y2="285.5" stroke="#F14040" stroke-width="13" stroke-linecap="round"/>
<line x1="1367.6" x2="1515.4" y1="361.0" y2="361.0" stroke="#1A6FDF" stroke-width="13" stroke-linecap="round"/>
<line x1="1367.6" x2="1515.4" y1="449.5" y2="449.5" stroke="#37AD6B" stroke-width="13" stroke-linecap="round"/>
<line x1="1367.6" x2="1515.4" y1="538.0" y2="538.0" stroke="#B177DE" stroke-width="13" stroke-linecap="round"/>
<text transform="translate(1532.0,231.4) scale(1.0400,1.0000)" font-size="62px" text-anchor="start">observed peak</text>
<text transform="translate(1532.0,306.2) scale(1.0400,1.0000)" font-size="62px" text-anchor="start">fitted peak</text>
<text transform="translate(1532.0,381.5) scale(1.040,1)" font-size="62px">S 2p<tspan font-size="41.4px" dy="16.1">3/2</tspan></text>
<text transform="translate(1532.0,470.3) scale(1.040,1)" font-size="62px">S 2p<tspan font-size="41.4px" dy="16.1">1/2</tspan></text>
<text transform="translate(1536.0,559.0) scale(1.0300,1.0000)" font-size="62px" text-anchor="start">background</text>
<path fill="#000" fill-rule="evenodd" d="M254,1697 H2014 V2944 H254 Z M261,1704 H2007 V2937 H261 Z"/>
<g>
<path d="M390.0,2690.6L398.7,2690.4L407.4,2690.2L416.0,2689.9L424.7,2689.7L433.4,2689.4L442.1,2689.2L450.8,2688.9L459.4,2688.5L468.1,2688.2L476.8,2687.8L485.5,2687.4L494.1,2687.0L502.8,2686.5L511.5,2686.0L520.2,2685.5L528.9,2684.9L537.5,2684.2L546.2,2683.5L554.9,2682.8L563.6,2681.9L572.3,2681.0L580.9,2679.9L589.6,2678.7L598.3,2677.3L607.0,2675.7L615.7,2673.7L624.3,2671.3L633.0,2668.3L641.7,2664.5L650.4,2659.6L659.0,2653.2L667.7,2644.9L676.4,2634.4L685.1,2620.4L693.8,2601.9L702.4,2578.5L711.1,2549.9L719.8,2516.1L728.5,2477.4L737.2,2431.8L745.8,2383.0L754.5,2329.9L763.2,2277.7L771.9,2227.7L780.6,2182.6L789.2,2154.6L797.9,2139.7L806.6,2134.8L815.3,2151.7L824.0,2181.9L832.6,2225.9L841.3,2275.4L850.0,2327.9L858.7,2373.2L867.3,2406.8L876.0,2436.9L884.7,2466.6L893.4,2494.9L902.1,2519.3L910.7,2540.3L919.4,2559.5L928.1,2575.4L936.8,2588.6L945.5,2592.7L954.1,2587.3L962.8,2577.3L971.5,2557.6L980.2,2522.8L988.9,2483.3L997.5,2433.5L1006.2,2370.7L1014.9,2298.8L1023.6,2217.4L1032.2,2132.5L1040.9,2049.0L1049.6,1974.2L1058.3,1920.1L1067.0,1873.8L1075.6,1854.0L1084.3,1875.1L1093.0,1922.0L1101.7,1970.1L1110.4,2038.5L1119.0,2117.3L1127.7,2190.4L1136.4,2258.3L1145.1,2326.3L1153.8,2384.0L1162.4,2433.0L1171.1,2475.9L1179.8,2515.5L1188.5,2553.2L1197.1,2587.4L1205.8,2618.7L1214.5,2647.7L1223.2,2673.7L1231.9,2696.5L1240.5,2715.3L1249.2,2728.8L1257.9,2739.1L1266.6,2746.8L1275.3,2752.8L1283.9,2757.6L1292.6,2761.3L1301.3,2764.6L1310.0,2767.3L1318.7,2770.0L1327.3,2772.5L1336.0,2774.4L1344.7,2775.6L1353.4,2776.6L1362.0,2777.5L1370.7,2778.3L1379.4,2779.0L1388.1,2779.5L1396.8,2779.9L1405.4,2780.2L1414.1,2780.4L1422.8,2780.7L1431.5,2780.9L1440.2,2781.1L1448.8,2781.2L1457.5,2781.4L1466.2,2781.5L1474.9,2781.7L1483.6,2781.8L1492.2,2781.9L1500.9,2782.0L1509.6,2782.1L1518.3,2782.3L1526.9,2782.4L1535.6,2782.5L1544.3,2782.6L1553.0,2782.7L1561.7,2782.8L1570.3,2782.9L1579.0,2783.0L1587.7,2783.1L1596.4,2783.2L1605.1,2783.3L1613.7,2783.4L1622.4,2783.5L1631.1,2783.6L1639.8,2783.6L1648.5,2783.7L1657.1,2783.8L1665.8,2783.8L1674.5,2783.9L1683.2,2783.9L1691.9,2784.0L1700.5,2784.0L1709.2,2784.0L1717.9,2784.1L1726.6,2784.1L1735.2,2784.1L1743.9,2784.1L1752.6,2784.2L1761.3,2784.2L1770.0,2784.2L1778.6,2784.2L1787.3,2784.3L1796.0,2784.3L1804.7,2784.3L1813.4,2784.3L1822.0,2784.3L1830.7,2784.4L1839.4,2784.4L1848.1,2784.4L1856.8,2784.4L1865.4,2784.4L1874.1,2784.4L1882.8,2784.4L1891.5,2784.5L1900.1,2784.5L1908.8,2784.5L1917.5,2784.5L1926.2,2784.5L1934.9,2784.5L1943.5,2784.5L1952.2,2784.5L1960.9,2784.5L1969.6,2784.5" fill="none" stroke="#515151" stroke-width="13" stroke-linecap="round" stroke-linejoin="round"/>
<path d="M1075.6,1858.0L1076.5,1880.0" fill="none" stroke="#515151" stroke-width="7" stroke-linecap="round" stroke-linejoin="round"/>
<path d="M390.0,2690.6L398.7,2690.4L407.4,2690.2L416.0,2689.9L424.7,2689.7L433.4,2689.4L442.1,2689.2L450.8,2688.9L459.4,2688.5L468.1,2688.2L476.8,2687.8L485.5,2687.4L494.1,2687.0L502.8,2686.5L511.5,2686.0L520.2,2685.5L528.9,2684.9L537.5,2684.2L546.2,2683.5L554.9,2682.8L563.6,2681.9L572.3,2681.0L580.9,2679.9L589.6,2678.7L598.3,2677.3L607.0,2675.7L615.7,2673.7L624.3,2671.3L633.0,2668.3L641.7,2664.5L650.4,2659.6L659.0,2653.3L667.7,2645.0L676.4,2634.3L685.1,2620.4L693.8,2602.8L702.4,2580.8L711.1,2553.8L719.8,2521.5L728.5,2483.7L737.2,2440.8L745.8,2393.5L754.5,2343.1L763.2,2291.6L771.9,2241.6L780.6,2196.4L789.2,2159.8L797.9,2135.8L806.6,2127.2L815.3,2135.3L824.0,2159.1L832.6,2195.5L841.3,2240.9L850.0,2291.2L858.7,2343.0L867.3,2393.4L876.0,2440.5L884.7,2482.6L893.4,2519.0L902.1,2549.0L910.7,2572.5L919.4,2589.5L928.1,2600.1L936.8,2604.4L945.5,2602.2L954.1,2593.5L962.8,2577.7L971.5,2554.3L980.2,2522.8L988.9,2482.6L997.5,2433.7L1006.2,2376.2L1014.9,2310.8L1023.6,2239.2L1032.2,2163.6L1040.9,2087.4L1049.6,2015.1L1058.3,1952.1L1067.0,1904.2L1075.6,1877.1L1084.3,1874.6L1093.0,1897.3L1101.7,1942.5L1110.4,2005.3L1119.0,2079.7L1127.7,2159.9L1136.4,2241.3L1145.1,2320.0L1153.8,2393.4L1162.4,2459.4L1171.1,2517.2L1179.8,2566.4L1188.5,2607.1L1197.1,2640.2L1205.8,2666.5L1214.5,2687.2L1223.2,2703.2L1231.9,2715.6L1240.5,2725.2L1249.2,2732.6L1257.9,2738.5L1266.6,2743.2L1275.3,2747.0L1283.9,2750.2L1292.6,2752.9L1301.3,2755.2L1310.0,2757.2L1318.7,2758.9L1327.3,2760.4L1336.0,2761.8L1344.7,2763.0L1353.4,2764.1L1362.0,2765.1L1370.7,2766.0L1379.4,2766.9L1388.1,2767.7L1396.8,2768.4L1405.4,2769.1L1414.1,2769.8L1422.8,2770.4L1431.5,2770.9L1440.2,2771.5L1448.8,2772.0L1457.5,2772.4L1466.2,2772.9L1474.9,2773.3L1483.6,2773.7L1492.2,2774.0L1500.9,2774.4L1509.6,2774.7L1518.3,2775.0L1526.9,2775.3L1535.6,2775.5L1544.3,2775.8L1553.0,2776.1L1561.7,2776.3L1570.3,2776.5L1579.0,2776.7L1587.7,2776.9L1596.4,2777.1L1605.1,2777.3L1613.7,2777.5L1622.4,2777.7L1631.1,2777.9L1639.8,2778.0L1648.5,2778.2L1657.1,2778.3L1665.8,2778.5L1674.5,2778.6L1683.2,2778.7L1691.9,2778.9L1700.5,2779.0L1709.2,2779.1L1717.9,2779.2L1726.6,2779.3L1735.2,2779.4L1743.9,2779.5L1752.6,2779.6L1761.3,2779.7L1770.0,2779.8L1778.6,2779.9L1787.3,2779.9L1796.0,2780.0L1804.7,2780.1L1813.4,2780.2L1822.0,2780.3L1830.7,2780.3L1839.4,2780.4L1848.1,2780.5L1856.8,2780.5L1865.4,2780.6L1874.1,2780.7L1882.8,2780.7L1891.5,2780.8L1900.1,2780.8L1908.8,2780.9L1917.5,2780.9L1926.2,2781.0L1934.9,2781.0L1943.5,2781.1L1952.2,2781.1L1960.9,2781.2L1969.6,2781.2" fill="none" stroke="#F14040" stroke-width="13" stroke-linecap="round" stroke-linejoin="round"/>
<path d="M390.0,2697.3L398.7,2697.3L407.4,2697.2L416.0,2697.2L424.7,2697.1L433.4,2697.1L442.1,2697.0L450.8,2697.0L459.4,2696.9L468.1,2696.9L476.8,2696.8L485.5,2696.7L494.1,2696.7L502.8,2696.6L511.5,2696.5L520.2,2696.5L528.9,2696.4L537.5,2696.3L546.2,2696.2L554.9,2696.1L563.6,2696.0L572.3,2695.9L580.9,2695.8L589.6,2695.7L598.3,2695.6L607.0,2695.5L615.7,2695.4L624.3,2695.2L633.0,2695.1L641.7,2695.0L650.4,2694.8L659.0,2694.7L667.7,2694.6L676.4,2694.5L685.1,2694.4L693.8,2694.3L702.4,2694.3L711.1,2694.4L719.8,2694.5L728.5,2694.7L737.2,2695.0L745.8,2695.4L754.5,2696.0L763.2,2696.6L771.9,2697.4L780.6,2698.3L789.2,2699.2L797.9,2700.2L806.6,2701.2L815.3,2702.0L824.0,2702.8L832.6,2703.3L841.3,2703.5L850.0,2703.5L858.7,2703.1L867.3,2702.3L876.0,2701.1L884.7,2699.3L893.4,2696.9L902.1,2693.7L910.7,2689.5L919.4,2683.8L928.1,2676.3L936.8,2666.3L945.5,2653.2L954.1,2635.9L962.8,2613.6L971.5,2585.3L980.2,2550.0L988.9,2506.8L997.5,2455.5L1006.2,2396.0L1014.9,2329.0L1023.6,2255.9L1032.2,2179.1L1040.9,2101.9L1049.6,2028.6L1058.3,1964.7L1067.0,1916.0L1075.6,1888.2L1084.3,1885.1L1093.0,1907.1L1101.7,1951.8L1110.4,2014.1L1119.0,2088.0L1127.7,2167.9L1136.4,2248.8L1145.1,2327.2L1153.8,2400.2L1162.4,2465.9L1171.1,2523.4L1179.8,2572.3L1188.5,2612.8L1197.1,2645.6L1205.8,2671.7L1214.5,2692.2L1223.2,2708.0L1231.9,2720.2L1240.5,2729.6L1249.2,2736.8L1257.9,2742.5L1266.6,2747.1L1275.3,2750.8L1283.9,2753.9L1292.6,2756.4L1301.3,2758.6L1310.0,2760.5L1318.7,2762.1L1327.3,2763.5L1336.0,2764.8L1344.7,2765.9L1353.4,2766.9L1362.0,2767.8L1370.7,2768.7L1379.4,2769.4L1388.1,2770.1L1396.8,2770.8L1405.4,2771.5L1414.1,2772.0L1422.8,2772.6L1431.5,2773.1L1440.2,2773.6L1448.8,2774.0L1457.5,2774.4L1466.2,2774.8L1474.9,2775.2L1483.6,2775.5L1492.2,2775.8L1500.9,2776.1L1509.6,2776.4L1518.3,2776.6L1526.9,2776.9L1535.6,2777.1L1544.3,2777.4L1553.0,2777.6L1561.7,2777.8L1570.3,2778.0L1579.0,2778.2L1587.7,2778.3L1596.4,2778.5L1605.1,2778.7L1613.7,2778.8L1622.4,2779.0L1631.1,2779.1L1639.8,2779.2L1648.5,2779.4L1657.1,2779.5L1665.8,2779.6L1674.5,2779.7L1683.2,2779.8L1691.9,2779.9L1700.5,2780.0L1709.2,2780.1L1717.9,2780.2L1726.6,2780.3L1735.2,2780.4L1743.9,2780.5L1752.6,2780.5L1761.3,2780.6L1770.0,2780.7L1778.6,2780.8L1787.3,2780.8L1796.0,2780.9L1804.7,2781.0L1813.4,2781.0L1822.0,2781.1L1830.7,2781.1L1839.4,2781.2L1848.1,2781.2L1856.8,2781.3L1865.4,2781.3L1874.1,2781.4L1882.8,2781.4L1891.5,2781.5L1900.1,2781.5L1908.8,2781.6L1917.5,2781.6L1926.2,2781.7L1934.9,2781.7L1943.5,2781.8L1952.2,2781.8L1960.9,2781.8L1969.6,2781.9" fill="none" stroke="#1A6FDF" stroke-width="13" stroke-linecap="round" stroke-linejoin="round"/>
<path d="M390.0,2693.2L398.7,2693.1L407.4,2693.0L416.0,2692.8L424.7,2692.7L433.4,2692.5L442.1,2692.3L450.8,2692.1L459.4,2691.8L468.1,2691.6L476.8,2691.3L485.5,2691.0L494.1,2690.7L502.8,2690.3L511.5,2689.9L520.2,2689.5L528.9,2689.0L537.5,2688.5L546.2,2688.0L554.9,2687.3L563.6,2686.6L572.3,2685.9L580.9,2685.0L589.6,2683.9L598.3,2682.7L607.0,2681.3L615.7,2679.5L624.3,2677.3L633.0,2674.6L641.7,2671.0L650.4,2666.4L659.0,2660.3L667.7,2652.3L676.4,2641.9L685.1,2628.4L693.8,2611.1L702.4,2589.5L711.1,2562.9L719.8,2531.0L728.5,2493.7L737.2,2451.3L745.8,2404.5L754.5,2354.7L763.2,2303.8L771.9,2254.4L780.6,2210.0L789.2,2174.2L797.9,2151.0L806.6,2143.3L815.3,2152.4L824.0,2177.3L832.6,2215.0L841.3,2261.7L850.0,2313.5L858.7,2367.0L867.3,2419.3L876.0,2468.6L884.7,2513.4L893.4,2552.8L902.1,2586.6L910.7,2615.0L919.4,2638.1L928.1,2656.7L936.8,2671.3L945.5,2682.8L954.1,2691.7L962.8,2698.6L971.5,2704.1L980.2,2708.6L988.9,2712.4L997.5,2715.7L1006.2,2718.7L1014.9,2721.7L1023.6,2724.6L1032.2,2727.6L1040.9,2730.7L1049.6,2733.9L1058.3,2737.3L1067.0,2740.7L1075.6,2744.2L1084.3,2747.7L1093.0,2750.9L1101.7,2753.8L1110.4,2756.5L1119.0,2758.8L1127.7,2761.0L1136.4,2763.0L1145.1,2765.0L1153.8,2766.8L1162.4,2768.6L1171.1,2770.2L1179.8,2771.6L1188.5,2772.8L1197.1,2773.8L1205.8,2774.6L1214.5,2775.4L1223.2,2776.1L1231.9,2776.7L1240.5,2777.2L1249.2,2777.7L1257.9,2778.2L1266.6,2778.7L1275.3,2779.1L1283.9,2779.5L1292.6,2779.8L1301.3,2780.1L1310.0,2780.2L1318.7,2780.4L1327.3,2780.5L1336.0,2780.6L1344.7,2780.6L1353.4,2780.7L1362.0,2780.7L1370.7,2780.8L1379.4,2780.8L1388.1,2780.8L1396.8,2780.9L1405.4,2781.0L1414.1,2781.0L1422.8,2781.1L1431.5,2781.2L1440.2,2781.2L1448.8,2781.3L1457.5,2781.3L1466.2,2781.4L1474.9,2781.4L1483.6,2781.4L1492.2,2781.5L1500.9,2781.5L1509.6,2781.6L1518.3,2781.6L1526.9,2781.7L1535.6,2781.7L1544.3,2781.7L1553.0,2781.8L1561.7,2781.8L1570.3,2781.8L1579.0,2781.9L1587.7,2781.9L1596.4,2781.9L1605.1,2782.0L1613.7,2782.0L1622.4,2782.0L1631.1,2782.1L1639.8,2782.1L1648.5,2782.1L1657.1,2782.2L1665.8,2782.2L1674.5,2782.2L1683.2,2782.3L1691.9,2782.3L1700.5,2782.3L1709.2,2782.3L1717.9,2782.4L1726.6,2782.4L1735.2,2782.4L1743.9,2782.4L1752.6,2782.4L1761.3,2782.5L1770.0,2782.5L1778.6,2782.5L1787.3,2782.5L1796.0,2782.5L1804.7,2782.6L1813.4,2782.6L1822.0,2782.6L1830.7,2782.6L1839.4,2782.6L1848.1,2782.6L1856.8,2782.7L1865.4,2782.7L1874.1,2782.7L1882.8,2782.7L1891.5,2782.7L1900.1,2782.7L1908.8,2782.8L1917.5,2782.8L1926.2,2782.8L1934.9,2782.8L1943.5,2782.8L1952.2,2782.8L1960.9,2782.9L1969.6,2782.9" fill="none" stroke="#37AD6B" stroke-width="13" stroke-linecap="round" stroke-linejoin="round"/>
<path d="M390.0,2700.0L398.7,2700.0L407.4,2700.0L416.0,2700.1L424.7,2700.1L433.4,2700.1L442.1,2700.2L450.8,2700.2L459.4,2700.2L468.1,2700.3L476.8,2700.3L485.5,2700.3L494.1,2700.4L502.8,2700.4L511.5,2700.4L520.2,2700.5L528.9,2700.5L537.5,2700.6L546.2,2700.6L554.9,2700.7L563.6,2700.7L572.3,2700.8L580.9,2700.9L589.6,2700.9L598.3,2701.0L607.0,2701.1L615.7,2701.2L624.3,2701.3L633.0,2701.4L641.7,2701.5L650.4,2701.6L659.0,2701.8L667.7,2701.9L676.4,2702.1L685.1,2702.4L693.8,2702.7L702.4,2703.0L711.1,2703.5L719.8,2704.0L728.5,2704.7L737.2,2705.5L745.8,2706.4L754.5,2707.5L763.2,2708.8L771.9,2710.2L780.6,2711.8L789.2,2713.6L797.9,2715.4L806.6,2717.3L815.3,2719.2L824.0,2721.0L832.6,2722.7L841.3,2724.4L850.0,2725.8L858.7,2727.1L867.3,2728.2L876.0,2729.2L884.7,2730.1L893.4,2730.8L902.1,2731.4L910.7,2731.9L919.4,2732.4L928.1,2732.9L936.8,2733.3L945.5,2733.7L954.1,2734.1L962.8,2734.6L971.5,2735.2L980.2,2735.8L988.9,2736.6L997.5,2737.5L1006.2,2738.6L1014.9,2739.9L1023.6,2741.4L1032.2,2743.1L1040.9,2745.2L1049.6,2747.4L1058.3,2749.9L1067.0,2752.6L1075.6,2755.4L1084.3,2758.2L1093.0,2760.8L1101.7,2763.1L1110.4,2765.3L1119.0,2767.2L1127.7,2768.9L1136.4,2770.6L1145.1,2772.1L1153.8,2773.6L1162.4,2775.1L1171.1,2776.4L1179.8,2777.5L1188.5,2778.5L1197.1,2779.2L1205.8,2779.8L1214.5,2780.4L1223.2,2780.8L1231.9,2781.2L1240.5,2781.6L1249.2,2782.0L1257.9,2782.3L1266.6,2782.6L1275.3,2782.9L1283.9,2783.2L1292.6,2783.4L1301.3,2783.5L1310.0,2783.5L1318.7,2783.6L1327.3,2783.6L1336.0,2783.6L1344.7,2783.5L1353.4,2783.5L1362.0,2783.4L1370.7,2783.4L1379.4,2783.4L1388.1,2783.3L1396.8,2783.3L1405.4,2783.3L1414.1,2783.3L1422.8,2783.3L1431.5,2783.3L1440.2,2783.3L1448.8,2783.3L1457.5,2783.3L1466.2,2783.3L1474.9,2783.3L1483.6,2783.3L1492.2,2783.3L1500.9,2783.3L1509.6,2783.3L1518.3,2783.3L1526.9,2783.3L1535.6,2783.3L1544.3,2783.3L1553.0,2783.3L1561.7,2783.3L1570.3,2783.3L1579.0,2783.3L1587.7,2783.3L1596.4,2783.3L1605.1,2783.3L1613.7,2783.3L1622.4,2783.3L1631.1,2783.3L1639.8,2783.3L1648.5,2783.3L1657.1,2783.3L1665.8,2783.3L1674.5,2783.3L1683.2,2783.4L1691.9,2783.4L1700.5,2783.4L1709.2,2783.4L1717.9,2783.4L1726.6,2783.4L1735.2,2783.4L1743.9,2783.4L1752.6,2783.4L1761.3,2783.4L1770.0,2783.4L1778.6,2783.4L1787.3,2783.4L1796.0,2783.4L1804.7,2783.4L1813.4,2783.4L1822.0,2783.4L1830.7,2783.4L1839.4,2783.4L1848.1,2783.4L1856.8,2783.4L1865.4,2783.4L1874.1,2783.4L1882.8,2783.4L1891.5,2783.4L1900.1,2783.5L1908.8,2783.5L1917.5,2783.5L1926.2,2783.5L1934.9,2783.5L1943.5,2783.5L1952.2,2783.5L1960.9,2783.5L1969.6,2783.5" fill="none" stroke="#B177DE" stroke-width="13" stroke-linecap="round" stroke-linejoin="round"/>
</g>
<rect x="430.0" y="2908" width="7" height="30" fill="#000"/>
<rect x="780.0" y="2908" width="7" height="30" fill="#000"/>
<rect x="1130.0" y="2908" width="7" height="30" fill="#000"/>
<rect x="1480.0" y="2908" width="7" height="30" fill="#000"/>
<rect x="1830.0" y="2908" width="7" height="30" fill="#000"/>
<rect x="605.0" y="2924" width="7" height="14" fill="#000"/>
<rect x="955.0" y="2924" width="7" height="14" fill="#000"/>
<rect x="1305.0" y="2924" width="7" height="14" fill="#000"/>
<rect x="1655.0" y="2924" width="7" height="14" fill="#000"/>
<text transform="translate(433.9,3026.0) scale(1.0350,1.0000)" font-size="71px" text-anchor="middle">240</text>
<text transform="translate(783.9,3026.0) scale(1.0350,1.0000)" font-size="71px" text-anchor="middle">236</text>
<text transform="translate(1133.9,3026.0) scale(1.0350,1.0000)" font-size="71px" text-anchor="middle">232</text>
<text transform="translate(1483.9,3026.0) scale(1.0350,1.0000)" font-size="71px" text-anchor="middle">228</text>
<text transform="translate(1833.9,3026.0) scale(1.0350,1.0000)" font-size="71px" text-anchor="middle">224</text>
<text transform="translate(1135.5,3156.8) scale(1.0790,1.0000)" font-size="84px" text-anchor="middle">Binding energy (ev)</text>
<text transform="translate(132.4,2293.0) rotate(-90)" font-size="84.5px" text-anchor="middle">Counts (s)</text>
<path fill="#000" fill-rule="evenodd" d="M1357.0,1740.2 H1913.0 V2154.2 H1357.0 Z M1361.0,1744.2 H1910.0 V2151.2 H1361.0 Z"/>
<line x1="1366.6" x2="1514.4" y1="1783.7" y2="1783.7" stroke="#515151" stroke-width="13" stroke-linecap="round"/>
<line x1="1366.6" x2="1514.4" y1="1858.7" y2="1858.7" stroke="#F14040" stroke-width="13" stroke-linecap="round"/>
<line x1="1366.6" x2="1514.4" y1="1934.2" y2="1934.2" stroke="#1A6FDF" stroke-width="13" stroke-linecap="round"/>
<line x1="1366.6" x2="1514.4" y1="2022.7" y2="2022.7" stroke="#37AD6B" stroke-width="13" stroke-linecap="round"/>
<line x1="1366.6" x2="1514.4" y1="2111.2" y2="2111.2" stroke="#B177DE" stroke-width="13" stroke-linecap="round"/>
<text transform="translate(1531.0,1804.6) scale(1.0400,1.0000)" font-size="62px" text-anchor="start">observed peak</text>
<text transform="translate(1531.0,1879.4) scale(1.0400,1.0000)" font-size="62px" text-anchor="start">fitted peak</text>
<text transform="translate(1530.5,1954.7) scale(1.052,1)" font-size="62px">Mo 3d<tspan font-size="41.4px" dy="16.1">3/2</tspan></text>
<text transform="translate(1530.5,2043.5) scale(1.052,1)" font-size="62px">Mo 3d<tspan font-size="41.4px" dy="16.1">5/2</tspan></text>
<text transform="translate(1535.0,2132.2) scale(1.0300,1.0000)" font-size="62px" text-anchor="start">background</text>
</svg>
</body></html>
